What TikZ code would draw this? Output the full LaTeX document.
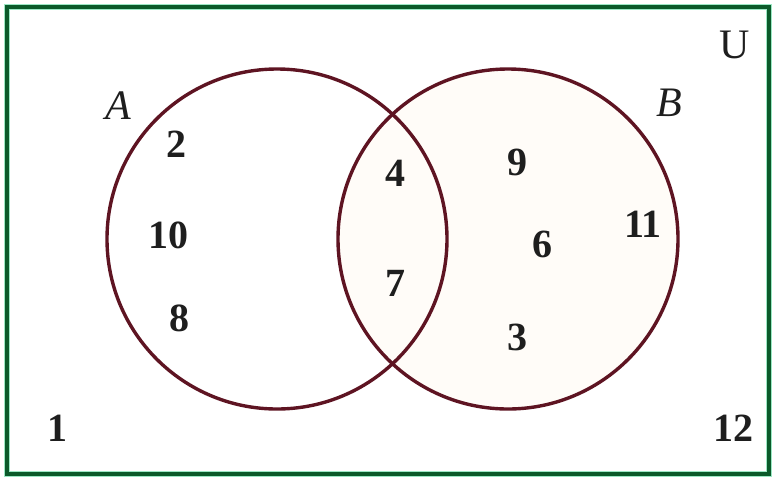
\documentclass[tikz,border=0pt]{standalone}
\usepackage{fontspec}
\setmainfont{Liberation Serif}
\usetikzlibrary{positioning}
\definecolor{cframe}{HTML}{0B5A2A}
\definecolor{cfringe}{HTML}{9BE8C4}
\definecolor{cring}{HTML}{5E1422}
\definecolor{cshade}{HTML}{FFFCF8}
\definecolor{cink}{HTML}{1E1E1E}

\begin{document}
\begin{tikzpicture}[x=0.5pt, y=-0.5pt,
    ring/.style={draw=cring, line width=1.7pt},
    num/.style={inner sep=0pt, font=\fontsize{20}{24}\selectfont\bfseries, text=cink},
    setname/.style={inner sep=0pt, font=\fontsize{21}{25}\selectfont\itshape, text=cink}]
  \useasboundingbox (0,0) rectangle (772,478);
  % universe frame
  \draw[cfringe, line width=3pt] (7,7) rectangle (769,474);
  \draw[cframe, line width=1.7pt] (7,7) rectangle (769,474);

  \coordinate (cA) at (277,239);
  \coordinate (cB) at (508,239);
  \fill[cshade] (cB) circle (170);
  \draw[ring] (cA) circle (170);
  \draw[ring] (cB) circle (170);

  \node[setname] (lA) at (118,106) {A};
  \node[setname] (lB) at (669,103) {B};
  \node[num, font=\fontsize{21}{25}\selectfont] (lU) at (735,45) {U};

  % only A
  \node[num] (n2) at (176,144) {2};
  \node[num] (n10) at (168,235) {10};
  \node[num] (n8) at (179,318) {8};
  % A and B
  \node[num] (n4) at (395,173) {4};
  \node[num] (n7) at (395,283) {7};
  % only B
  \node[num] (n9) at (517,162) {9};
  \node[num] (n6) at (542,244) {6};
  \node[num] (n3) at (517,337) {3};
  \node[num] (n11) at (643,224) {11};
  % outside
  \node[num] (n1) at (57,428) {1};
  \node[num] (n12) at (733,428) {12};
\end{tikzpicture}
\end{document}
